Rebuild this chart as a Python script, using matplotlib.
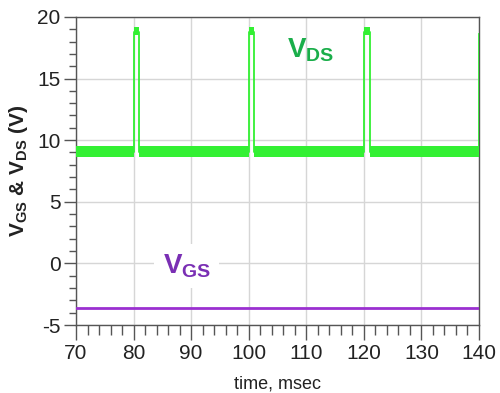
import matplotlib
matplotlib.use("Agg")
import matplotlib.pyplot as plt
from matplotlib.ticker import MultipleLocator

# ---- data ----
# V_DS step waveform: edge times (msec) and levels (V)
vds_t = [70, 80, 80, 81, 81, 100, 100, 101, 101, 120, 120, 121, 121, 140, 140]
vds_v = [9.0, 9.0, 18.8, 18.8, 9.0, 9.0, 18.8, 18.8, 9.0, 9.0, 18.8, 18.8, 9.0, 9.0, 18.6]
# noise envelope of V_DS at each point
vds_lo = [8.6, 8.6, 18.5, 18.5, 8.6, 8.6, 18.5, 18.5, 8.6, 8.6, 18.5, 18.5, 8.6, 8.6, 8.6]
vds_hi = [9.5, 9.5, 19.15, 19.15, 9.5, 9.5, 19.15, 19.15, 9.5, 9.5, 19.15, 19.15, 9.5, 9.5, 9.5]
# V_GS constant level
vgs_t = [70, 140]
vgs_v = [-3.6, -3.6]

x_ticks = [70, 80, 90, 100, 110, 120, 130, 140]
y_ticks = [-5, 0, 5, 10, 15, 20]

plt.rcParams['mathtext.fontset'] = 'custom'
plt.rcParams['mathtext.rm'] = 'Liberation Sans'
plt.rcParams['mathtext.bf'] = 'Liberation Sans:bold'
plt.rcParams['axes.unicode_minus'] = False
plt.rcParams['font.family'] = ['Liberation Sans', 'DejaVu Sans']

fig = plt.figure(figsize=(5.0, 3.93), dpi=100)
ax = fig.add_axes([0.152, 0.173, 0.806, 0.784])

green = '#33f033'
ax.fill_between(vds_t, vds_lo, vds_hi, color=green, lw=0, zorder=3)
ax.plot(vds_t, vds_v, color=green, lw=1.3, zorder=3)
ax.plot(vgs_t, vgs_v, color='#9a30d0', lw=2.0, zorder=3)

ax.set_xlim(70, 140)
ax.set_ylim(-5, 20)
ax.set_xticks(x_ticks)
ax.set_yticks(y_ticks)
ax.xaxis.set_minor_locator(MultipleLocator(2))
ax.yaxis.set_minor_locator(MultipleLocator(1))
ax.grid(True, which='major', color='#d6d6d6', lw=1.0, zorder=0)
ax.set_axisbelow(True)

for s in ax.spines.values():
    s.set_color('#555555')
    s.set_linewidth(1.0)
ax.tick_params(which='both', direction='out', width=1, color='#555555')
ax.tick_params(axis='x', which='major', length=11, labelsize=15, pad=3, labelcolor='#222222')
ax.tick_params(axis='x', which='minor', length=7)
ax.tick_params(axis='y', which='major', length=9, labelsize=15, pad=2, labelcolor='#222222')
ax.tick_params(axis='y', which='minor', length=5)

ax.set_xlabel('time, msec', fontsize=13, color='#222222', labelpad=9)
ax.set_ylabel(r'$\mathbf{V_{GS}}$ & $\mathbf{V_{DS}}$ (V)',
              fontweight='bold', fontsize=15, color='#222222', labelpad=5)

ax.text(106.6, 16.7, r'$\mathbf{V_{DS}}$', color='#1aae4a', fontsize=20, zorder=5)
ax.text(85.05, -0.78, r'$\mathbf{V_{GS}}$', color='#7a2fb4', fontsize=20, zorder=5,
        bbox=dict(facecolor='white', edgecolor='none', pad=6))

fig.savefig('out.png', dpi=100)
